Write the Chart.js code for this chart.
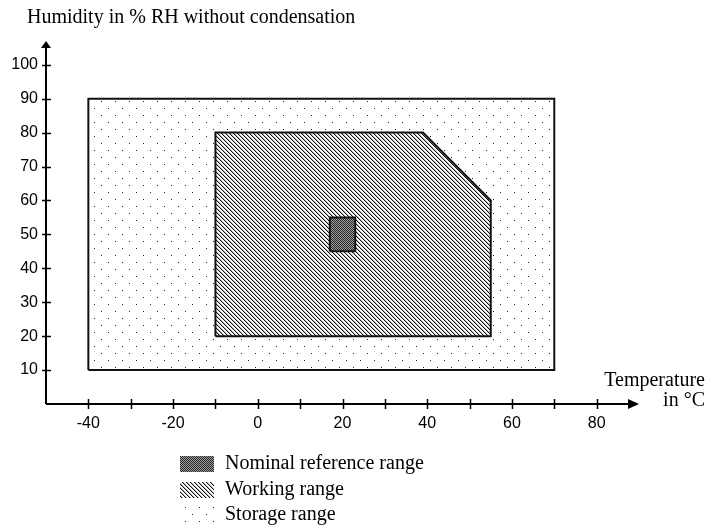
<!DOCTYPE html>
<html>
<head>
<meta charset="utf-8">
<title>Humidity / temperature ranges</title>
<script src="https://cdn.jsdelivr.net/npm/chart.js@4.4.1/dist/chart.umd.min.js"></script>
<style>
    html, body { margin: 0; padding: 0; background: #fff; }
    canvas { display: block; }
</style>
</head>
<body>
<canvas id="rangeChart" width="709" height="530"></canvas>
<script>
// ============================================
// DATA (temperature in °C, humidity in % RH)
// ============================================

const storageTemp = [-40, 70, 70, -40, -40];
const storageHum  = [10, 10, 90, 90, 10];

const workingTemp = [-10, 55, 55, 39, -10, -10];
const workingHum  = [20, 20, 60, 80, 80, 20];

const nominalTemp = [17, 23, 23, 17, 17];
const nominalHum  = [45, 45, 55, 55, 45];

const rangeLabels = ['Nominal reference range', 'Working range', 'Storage range'];

const xTicks = [-40, -30, -20, -10, 0, 10, 20, 30, 40, 50, 60, 70, 80];
const xTickLabels = ['-40', '', '-20', '', '0', '', '20', '', '40', '', '60', '', '80'];
const yTicks = [10, 20, 30, 40, 50, 60, 70, 80, 90, 100];
const yTickLabels = ['10', '20', '30', '40', '50', '60', '70', '80', '90', '100'];

const xAxisRange = [-50, 90];
const yAxisRange = [0, 107];

const yTitle = 'Humidity in % RH without condensation';
const xTitle = ['Temperature', 'in °C'];

// ============================================
// FILL PATTERNS
// ============================================

const canvas = document.getElementById('rangeChart');
const mainCtx = canvas.getContext('2d');

function makePattern(w, h, painter) {
    const c = document.createElement('canvas');
    c.width = w;
    c.height = h;
    const g = c.getContext('2d');
    painter(g);
    return mainCtx.createPattern(c, 'repeat');
}

// sparse staggered dots
const storageFill = makePattern(14, 14, g => {
    g.fillStyle = '#fff';
    g.fillRect(0, 0, 14, 14);
    g.fillStyle = '#222';
    g.fillRect(3, 3, 1, 1);
    g.fillRect(10, 10, 1, 1);
});

// dense "\" hatching
const workingFill = makePattern(4, 4, g => {
    g.fillStyle = '#fff';
    g.fillRect(0, 0, 4, 4);
    for (let i = 0; i < 4; i++) {
        g.fillStyle = '#111';
        g.fillRect(i, i, 1, 1);
        g.fillStyle = '#b4b4b4';
        g.fillRect((i + 1) % 4, i, 1, 1);
    }
});

// dark checkerboard
const nominalFill = makePattern(2, 2, g => {
    g.fillStyle = '#9a9a9a';
    g.fillRect(0, 0, 2, 2);
    g.fillStyle = '#2a2a2a';
    g.fillRect(0, 0, 1, 1);
    g.fillRect(1, 1, 1, 1);
});

function toPoints(xs, ys) {
    return xs.map((x, i) => ({ x: x, y: ys[i] }));
}

function rangeDataset(label, xs, ys, fill) {
    return {
        label: label,
        data: toPoints(xs, ys),
        showLine: true,
        fill: 'shape',
        backgroundColor: fill,
        borderColor: '#111',
        borderWidth: 2,
        borderJoinStyle: 'miter',
        pointRadius: 0,
        pointHoverRadius: 0,
        tension: 0
    };
}

// ============================================
// AXES, TITLES AND LEGEND
// ============================================

const axesPlugin = {
    id: 'axesPlugin',
    afterDraw(chart) {
        const { ctx, scales: { x, y } } = chart;
        const left = x.getPixelForValue(xAxisRange[0]);
        const right = x.getPixelForValue(xAxisRange[1]);
        const bottom = y.getPixelForValue(yAxisRange[0]);
        const top = y.getPixelForValue(yAxisRange[1]);

        ctx.save();
        ctx.strokeStyle = '#000';
        ctx.fillStyle = '#000';
        ctx.lineWidth = 2;

        // axis lines
        ctx.beginPath();
        ctx.moveTo(left, bottom);
        ctx.lineTo(right - 8, bottom);
        ctx.moveTo(left, bottom);
        ctx.lineTo(left, top + 6);
        ctx.stroke();

        // arrow heads
        ctx.beginPath();
        ctx.moveTo(right, bottom);
        ctx.lineTo(right - 11, bottom - 5);
        ctx.lineTo(right - 11, bottom + 5);
        ctx.closePath();
        ctx.fill();

        ctx.beginPath();
        ctx.moveTo(left, top);
        ctx.lineTo(left + 5, top + 7);
        ctx.lineTo(left - 5, top + 7);
        ctx.closePath();
        ctx.fill();

        // tick marks crossing the axes
        ctx.lineWidth = 1.5;
        ctx.beginPath();
        xTicks.forEach(v => {
            const px = Math.round(x.getPixelForValue(v)) + 0.5;
            ctx.moveTo(px, bottom - 5);
            ctx.lineTo(px, bottom + 5);
        });
        yTicks.forEach(v => {
            const py = Math.round(y.getPixelForValue(v)) + 0.5;
            ctx.moveTo(left - 4, py);
            ctx.lineTo(left + 5, py);
        });
        ctx.stroke();

        // tick labels
        ctx.font = '16px "Liberation Sans", Arial, sans-serif';
        ctx.textBaseline = 'middle';
        ctx.textAlign = 'center';
        xTicks.forEach((v, i) => {
            if (xTickLabels[i]) ctx.fillText(xTickLabels[i], x.getPixelForValue(v), bottom + 20);
        });
        ctx.textAlign = 'right';
        yTicks.forEach((v, i) => {
            ctx.fillText(yTickLabels[i], left - 8, y.getPixelForValue(v));
        });

        // axis titles
        ctx.font = '20px "Liberation Serif", "Times New Roman", serif';
        ctx.textAlign = 'left';
        ctx.fillText(yTitle, 27, 18);
        ctx.textAlign = 'right';
        ctx.fillText(xTitle[0], 705, 381);
        ctx.fillText(xTitle[1], 705, 401);

        // legend
        const fills = chart.data.datasets.map(ds => ds.backgroundColor);
        const rowY = [464, 490, 515];
        ctx.textAlign = 'left';
        chart.data.datasets.forEach((ds, i) => {
            ctx.fillStyle = fills[i];
            ctx.fillRect(180, rowY[i] - 8, 34, 16);
            ctx.fillStyle = '#000';
            ctx.fillText(ds.label, 225, rowY[i]);
        });

        ctx.restore();
    }
};

// ============================================
// CHART
// ============================================

new Chart(mainCtx, {
    type: 'scatter',
    data: {
        datasets: [
            rangeDataset(rangeLabels[0], nominalTemp, nominalHum, nominalFill),
            rangeDataset(rangeLabels[1], workingTemp, workingHum, workingFill),
            rangeDataset(rangeLabels[2], storageTemp, storageHum, storageFill)
        ]
    },
    options: {
        responsive: false,
        animation: false,
        events: [],
        layout: {
            padding: { left: 46, right: 70, top: 41, bottom: 126 }
        },
        plugins: {
            legend: { display: false },
            tooltip: { enabled: false }
        },
        scales: {
            x: { type: 'linear', min: xAxisRange[0], max: xAxisRange[1], display: false },
            y: { type: 'linear', min: yAxisRange[0], max: yAxisRange[1], display: false }
        }
    },
    plugins: [axesPlugin]
});
</script>
</body>
</html>
